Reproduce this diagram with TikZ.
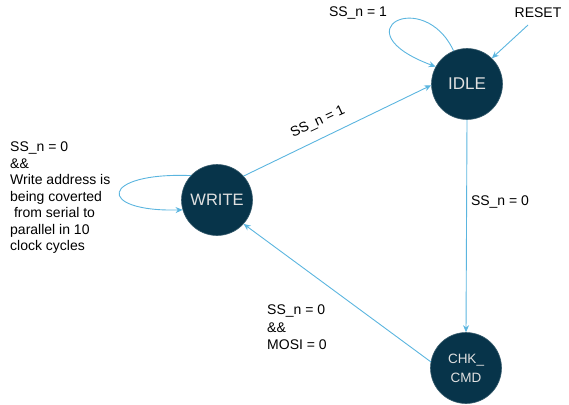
\documentclass[tikz,border=0pt]{standalone}
\usepackage{fontspec}
\setmainfont{Liberation Sans}
\usetikzlibrary{arrows.meta}
\definecolor{stfill}{HTML}{07344A}
\definecolor{stline}{HTML}{5BB5DF}
\definecolor{sttext}{HTML}{E0E0E0}
\tikzset{
  state/.style={circle, fill=stfill, draw=stfill!80!white, line width=0.6pt, minimum size=71pt, inner sep=0pt, text=sttext, align=center},
  edge/.style={draw=stline, line width=0.9pt, -{Stealth[length=7pt,width=6pt]}},
  lbl/.style={inner sep=0pt, font=\fontsize{14}{17}\selectfont, text=black}
}
\begin{document}
\begin{tikzpicture}[x=1pt,y=-1pt]
\useasboundingbox (0,0) rectangle (569,404);
\node[state, font=\fontsize{17}{20}\selectfont] (idle) at (467,84) {IDLE};
\node[state, font=\fontsize{16.5}{20}\selectfont] (write) at (217,200) {WRITE};
\node[state, font=\fontsize{13.5}{19}\selectfont] (chk) at (466,368) {CHK\_\\CMD};
\coordinate (rst) at (528,25);
\node[lbl] (rstlbl) at (538,13) {RESET};
\node[lbl] (l1) at (358,13) {SS\_n = 1};
\node[lbl, rotate=25] (l2) at (318,122) {SS\_n = 1};
\node[lbl] (l3) at (500,202) {SS\_n = 0};
\node[lbl, anchor=north west, align=left, font=\fontsize{14}{16.5}\selectfont] (l4) at (10,142) {SS\_n = 0\\\&\&\\Write address is\\being coverted\\\ from serial to\\parallel in 10\\clock cycles};
\node[lbl, anchor=north west, align=left, font=\fontsize{14}{17.5}\selectfont] (l5) at (267,305) {SS\_n = 0\\\&\&\\MOSI = 0};
\draw[edge] (rst) -- (idle.46);
\draw[edge] (idle.112) .. controls +(-30,-64) and +(-97,-36) .. (idle.151);
\draw[edge] (write.42) -- (idle.182);
\draw[edge] (idle.south) -- (chk.north);
\draw[edge] (chk.170) -- (write.-42);
\draw[edge] (write.137) .. controls (100,172) and (95,212) .. (write.196);
\end{tikzpicture}
\end{document}
